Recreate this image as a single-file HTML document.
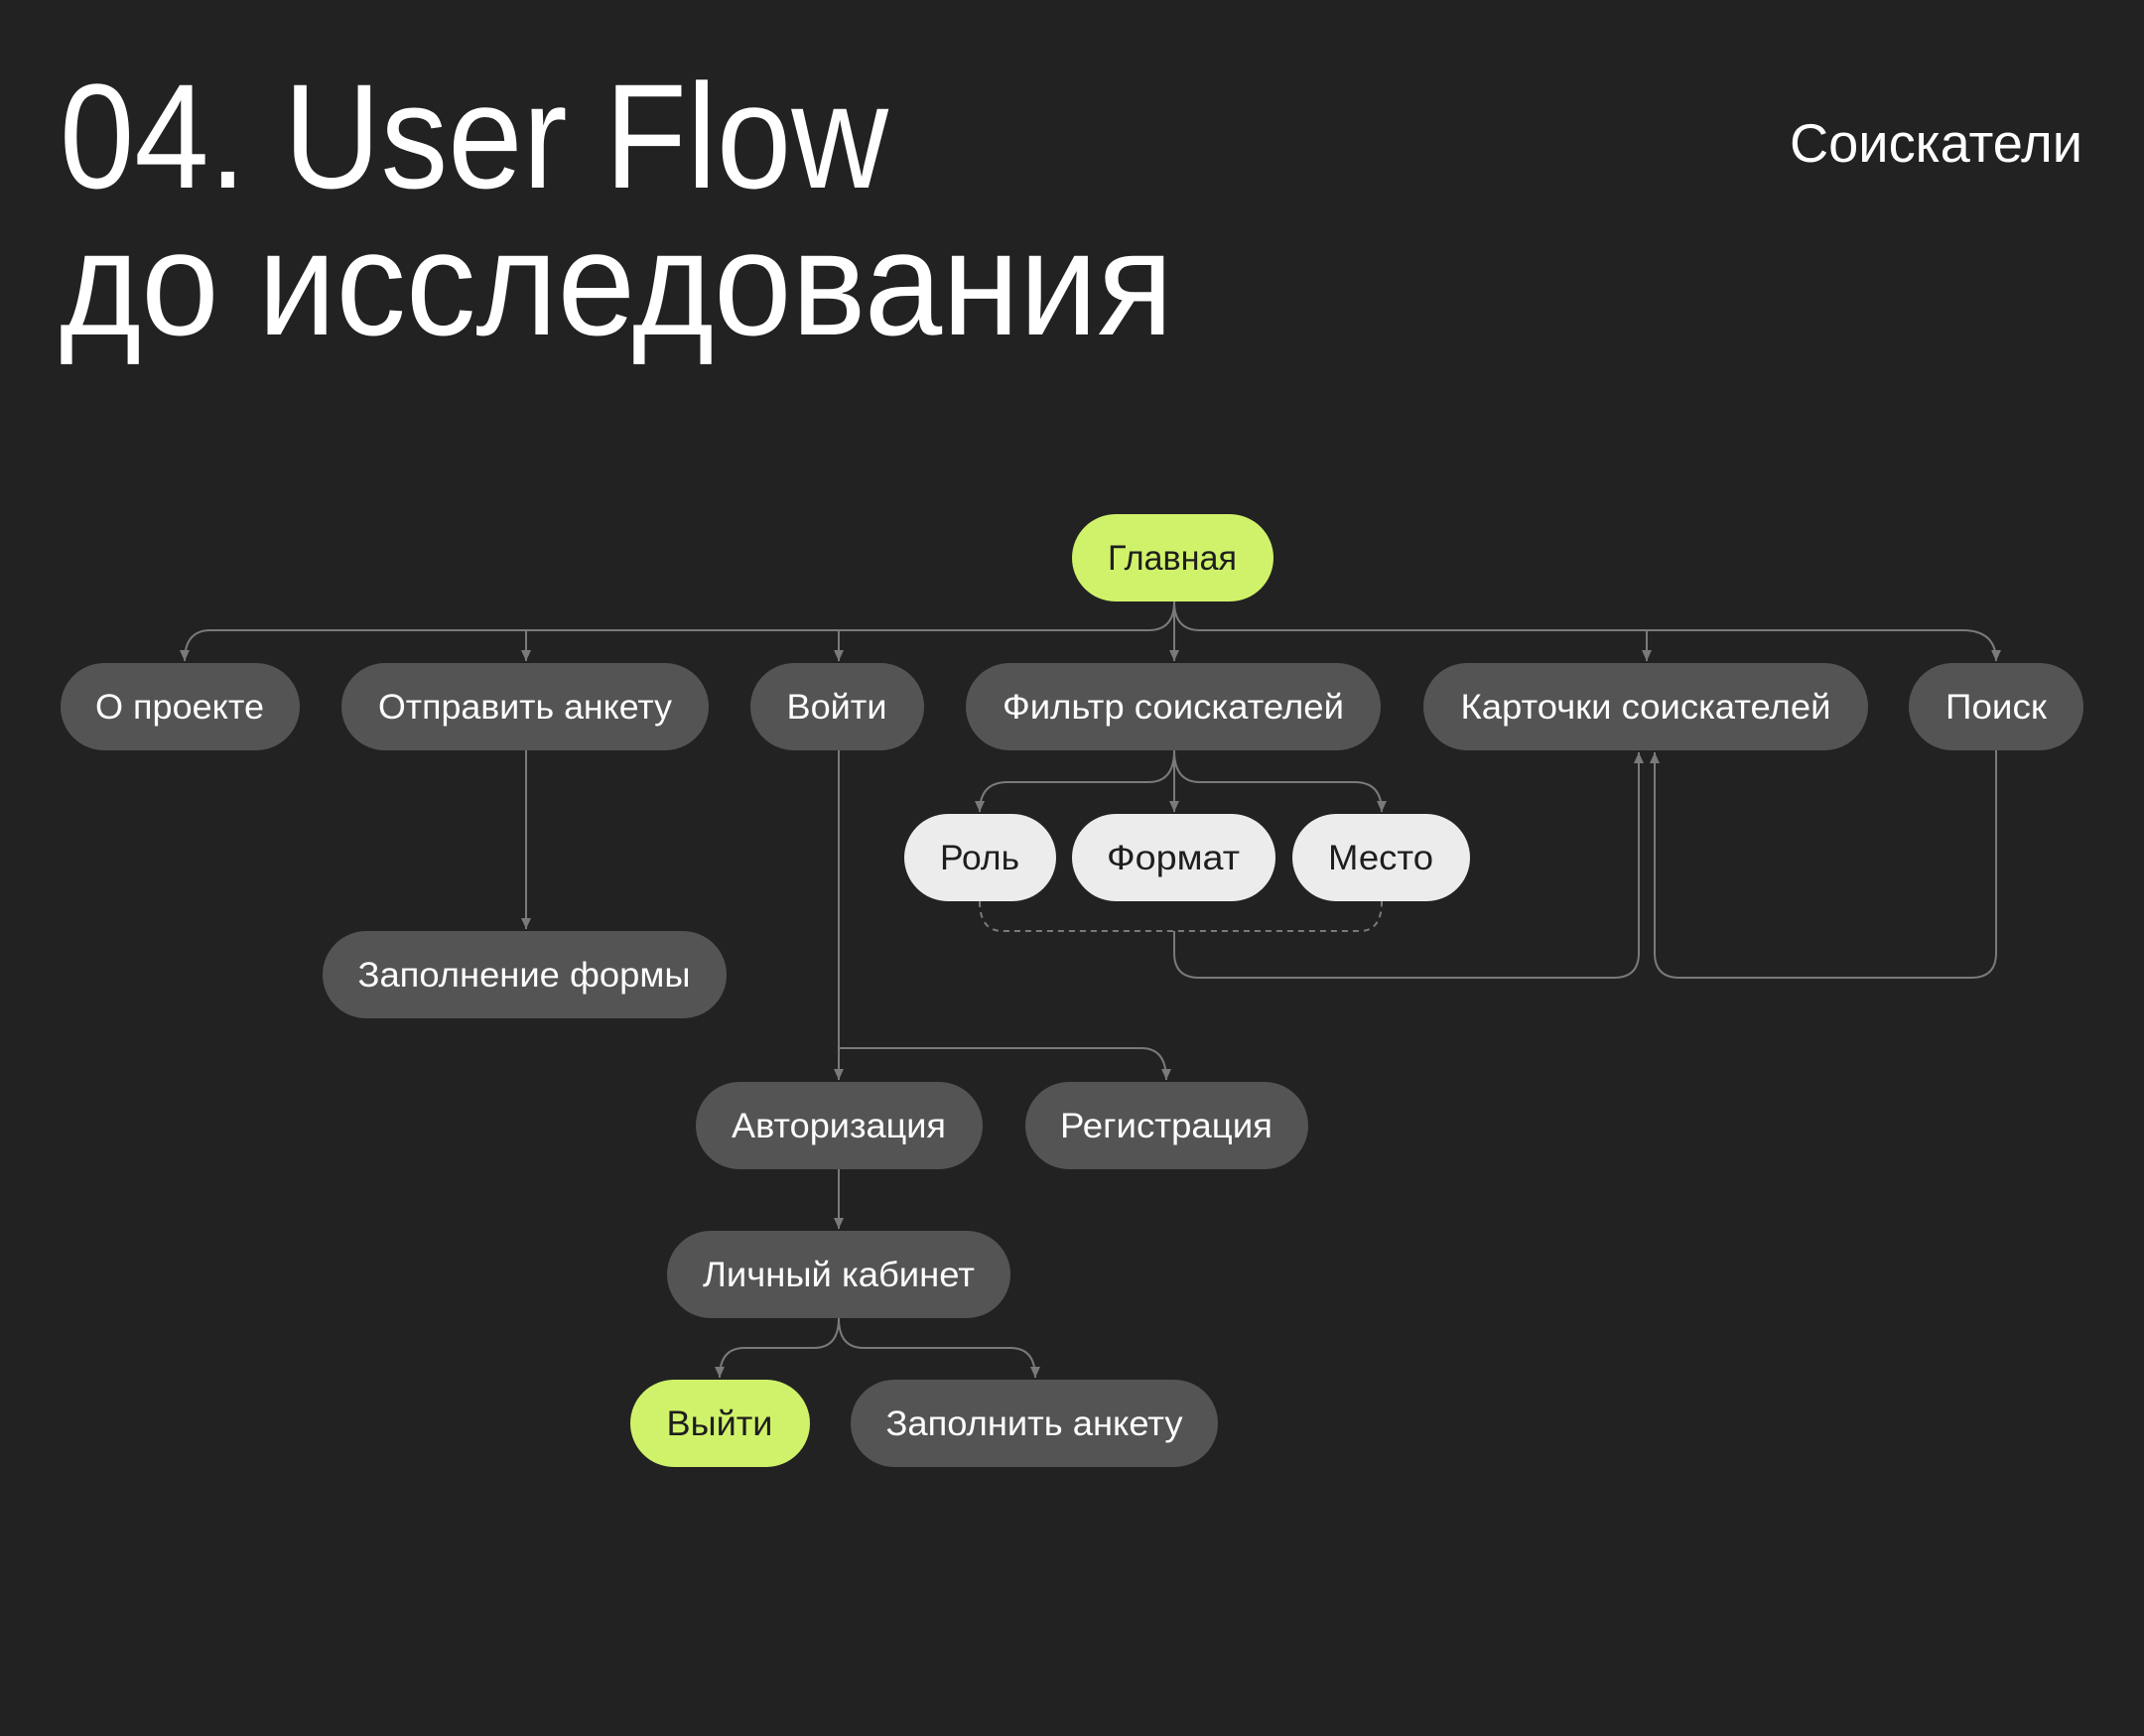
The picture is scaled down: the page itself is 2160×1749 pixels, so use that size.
<!DOCTYPE html>
<html><head><meta charset="utf-8"><style>
html,body{margin:0;padding:0;background:#222222;}
svg{display:block}
text{font-family:"Liberation Sans",sans-serif;}
</style></head><body>
<svg width="2160" height="1749" viewBox="0 0 2160 1749" xmlns="http://www.w3.org/2000/svg">
<defs>
<marker id="d" markerWidth="12" markerHeight="10" refX="11" refY="5" orient="auto" markerUnits="userSpaceOnUse" viewBox="0 0 12 10">
<path d="M0,0 L11,5 L0,10 Z" fill="#7a7a7a"/>
</marker>
</defs>
<rect width="2160" height="1749" fill="#222222"/>
<text x="60" y="189" font-size="150" fill="#fff" textLength="835" lengthAdjust="spacingAndGlyphs">04. User Flow</text>
<text x="60" y="337" font-size="150" fill="#fff" textLength="1122" lengthAdjust="spacingAndGlyphs">до исследования</text>
<text x="1803" y="163" font-size="55" fill="#fff" textLength="295" lengthAdjust="spacingAndGlyphs">Соискатели</text>

<g fill="none" stroke="#7a7a7a" stroke-width="2">
<path d="M1183,606 Q1183,635 1157,635 L212,635 Q186,635 186,666" marker-end="url(#d)"/>
<path d="M530,635 L530,666" marker-end="url(#d)"/>
<path d="M845,635 L845,666" marker-end="url(#d)"/>
<path d="M1183,606 L1183,666" marker-end="url(#d)"/>
<path d="M1183,606 Q1183,635 1209,635 L1977,635 Q2011,635 2011,666" marker-end="url(#d)"/>
<path d="M1659,635 L1659,666" marker-end="url(#d)"/>
<path d="M1183,756 Q1183,788 1157,788 L1015,788 Q987,788 987,818" marker-end="url(#d)"/>
<path d="M1183,756 L1183,818" marker-end="url(#d)"/>
<path d="M1183,756 Q1183,788 1209,788 L1365,788 Q1392,788 1392,818" marker-end="url(#d)"/>
<path d="M987,908 Q987,938 1010,938 L1370,938 Q1392,938 1392,908" stroke-dasharray="6,5"/>
<path d="M1183,938 L1183,960 Q1183,985 1208,985 L1626,985 Q1651,985 1651,960 L1651,758" marker-end="url(#d)"/>
<path d="M2011,756 L2011,960 Q2011,985 1986,985 L1692,985 Q1667,985 1667,960 L1667,758" marker-end="url(#d)"/>
<path d="M530,756 L530,936" marker-end="url(#d)"/>
<path d="M845,756 L845,1088" marker-end="url(#d)"/>
<path d="M845,1056 L1150,1056 Q1175,1056 1175,1088" marker-end="url(#d)"/>
<path d="M845,1178 L845,1238" marker-end="url(#d)"/>
<path d="M845,1328 Q845,1358 820,1358 L750,1358 Q725,1358 725,1388" marker-end="url(#d)"/>
<path d="M845,1328 Q845,1358 870,1358 L1018,1358 Q1043,1358 1043,1388" marker-end="url(#d)"/>
</g>

<g font-size="35" text-anchor="middle">
<rect x="1080" y="518" width="203" height="88" rx="44" fill="#d0f26a"/>
<text x="1181" y="574" fill="#1e1e1e" textLength="130" lengthAdjust="spacingAndGlyphs">Главная</text>

<rect x="61" y="668" width="241" height="88" rx="44" fill="#545454"/>
<text x="181" y="724" fill="#fff" textLength="170" lengthAdjust="spacingAndGlyphs">О проекте</text>
<rect x="344" y="668" width="370" height="88" rx="44" fill="#545454"/>
<text x="529" y="724" fill="#fff" textLength="296" lengthAdjust="spacingAndGlyphs">Отправить анкету</text>
<rect x="756" y="668" width="175" height="88" rx="44" fill="#545454"/>
<text x="843" y="724" fill="#fff" textLength="101" lengthAdjust="spacingAndGlyphs">Войти</text>
<rect x="973" y="668" width="418" height="88" rx="44" fill="#545454"/>
<text x="1182" y="724" fill="#fff" textLength="344" lengthAdjust="spacingAndGlyphs">Фильтр соискателей</text>
<rect x="1434" y="668" width="448" height="88" rx="44" fill="#545454"/>
<text x="1658" y="724" fill="#fff" textLength="373" lengthAdjust="spacingAndGlyphs">Карточки соискателей</text>
<rect x="1923" y="668" width="176" height="88" rx="44" fill="#545454"/>
<text x="2011" y="724" fill="#fff" textLength="102" lengthAdjust="spacingAndGlyphs">Поиск</text>

<rect x="911" y="820" width="153" height="88" rx="44" fill="#ececec"/>
<text x="987" y="876" fill="#1e1e1e" textLength="80" lengthAdjust="spacingAndGlyphs">Роль</text>
<rect x="1080" y="820" width="205" height="88" rx="44" fill="#ececec"/>
<text x="1182" y="876" fill="#1e1e1e" textLength="134" lengthAdjust="spacingAndGlyphs">Формат</text>
<rect x="1302" y="820" width="179" height="88" rx="44" fill="#ececec"/>
<text x="1391" y="876" fill="#1e1e1e" textLength="106" lengthAdjust="spacingAndGlyphs">Место</text>

<rect x="325" y="938" width="407" height="88" rx="44" fill="#545454"/>
<text x="528" y="994" fill="#fff" textLength="335" lengthAdjust="spacingAndGlyphs">Заполнение формы</text>

<rect x="701" y="1090" width="289" height="88" rx="44" fill="#545454"/>
<text x="845" y="1146" fill="#fff" textLength="216" lengthAdjust="spacingAndGlyphs">Авторизация</text>
<rect x="1033" y="1090" width="285" height="88" rx="44" fill="#545454"/>
<text x="1175" y="1146" fill="#fff" textLength="214" lengthAdjust="spacingAndGlyphs">Регистрация</text>

<rect x="672" y="1240" width="346" height="88" rx="44" fill="#545454"/>
<text x="845" y="1296" fill="#fff" textLength="274" lengthAdjust="spacingAndGlyphs">Личный кабинет</text>

<rect x="635" y="1390" width="181" height="88" rx="44" fill="#d0f26a"/>
<text x="725" y="1446" fill="#1e1e1e" textLength="107" lengthAdjust="spacingAndGlyphs">Выйти</text>
<rect x="857" y="1390" width="370" height="88" rx="44" fill="#545454"/>
<text x="1042" y="1446" fill="#fff" textLength="299" lengthAdjust="spacingAndGlyphs">Заполнить анкету</text>
</g>
</svg>
</body></html>
